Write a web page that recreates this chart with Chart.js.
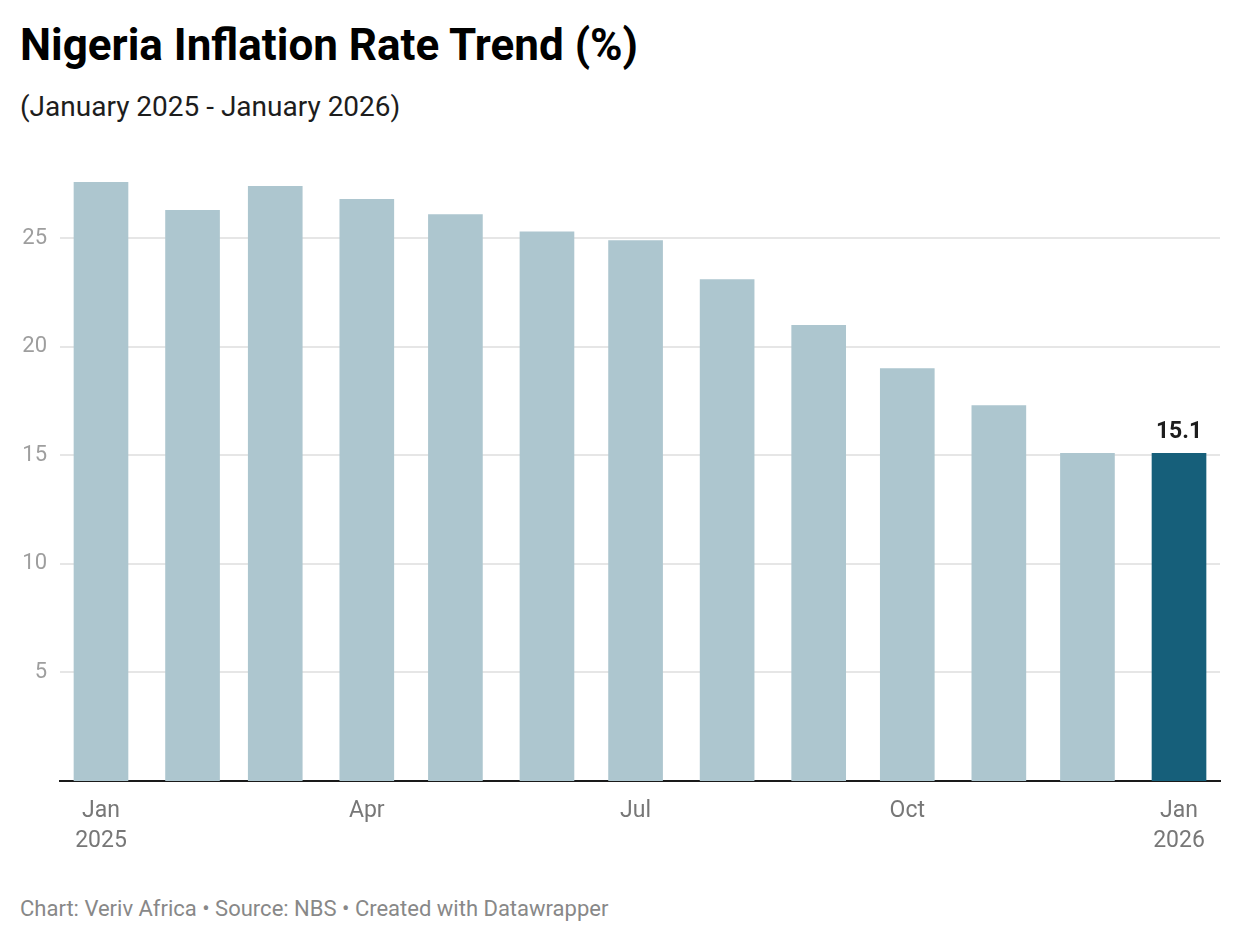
<!DOCTYPE html>
<html>
<head>
<meta charset="utf-8">
<script src="https://cdn.jsdelivr.net/npm/chart.js@4"></script>
<style>
  html, body { margin: 0; padding: 0; background: #fff; }
  body { width: 1240px; height: 944px; position: relative; overflow: hidden; font-family: Roboto, "Noto Sans", sans-serif; }
  .t { position: absolute; left: 20px; line-height: 1; white-space: nowrap; }
  #title { top: 23px; font-size: 44px; font-weight: 700; color: #000; }
  #subtitle { top: 93px; font-size: 28px; color: #1d1d1d; }
  #footer { top: 898px; font-size: 22px; color: #888; }
  #wrap { position: absolute; left: 0; top: 150px; width: 1240px; height: 720px; }
</style>
</head>
<body>
<div class="t" id="title">Nigeria Inflation Rate Trend (%)</div>
<div class="t" id="subtitle">(January 2025 - January 2026)</div>
<div id="wrap"><canvas id="c" width="1240" height="720"></canvas></div>
<div class="t" id="footer">Chart: Veriv Africa • Source: NBS • Created with Datawrapper</div>
<script>
// ---- data ----
const months = ['2025-01','2025-02','2025-03','2025-04','2025-05','2025-06','2025-07','2025-08','2025-09','2025-10','2025-11','2025-12','2026-01'];
const inflation = [27.6, 26.3, 27.4, 26.8, 26.1, 25.3, 24.9, 23.1, 21.0, 19.0, 17.3, 15.1, 15.1];
const tickMonths = ['2025-01','2025-04','2025-07','2025-10','2026-01'];
const tickLabels = [['Jan','2025'], 'Apr', 'Jul', 'Oct', ['Jan','2026']];
const yTicks = [5, 10, 15, 20, 25];
const highlightLabel = '15.1';

// ---- helpers ----
const base = Date.UTC(2025, 0, 1);
const dayOf = m => { const [y, mo] = m.split('-').map(Number); return (Date.UTC(y, mo - 1, 1) - base) / 86400000; };
const xs = months.map(dayOf);
const tickDays = tickMonths.map(dayOf);
const padDays = 13.88;

const lightColor = '#adc6cf';
const darkColor = '#165f7a';

const labelPlugin = {
  id: 'lastLabel',
  afterDatasetsDraw(chart) {
    const meta = chart.getDatasetMeta(0);
    const el = meta.data[meta.data.length - 1];
    const ctx = chart.ctx;
    ctx.save();
    ctx.font = '700 23px Roboto, sans-serif';
    ctx.fillStyle = '#1d1d1d';
    ctx.textAlign = 'center';
    ctx.textBaseline = 'alphabetic';
    ctx.fillText(highlightLabel, el.x, el.y - 15);
    ctx.restore();
  }
};

new Chart(document.getElementById('c'), {
  type: 'bar',
  data: {
    datasets: [{
      data: xs.map((x, i) => ({ x, y: inflation[i] })),
      backgroundColor: inflation.map((v, i) => i === inflation.length - 1 ? darkColor : lightColor),
      barThickness: 54,
      borderWidth: 0
    }]
  },
  options: {
    responsive: false,
    animation: false,
    layout: { padding: { top: 32, right: 20, left: 0, bottom: 0 } },
    plugins: { legend: { display: false }, tooltip: { enabled: false } },
    scales: {
      x: {
        type: 'linear',
        min: xs[0] - padDays,
        max: xs[xs.length - 1] + padDays,
        offset: false,
        grid: { display: false, drawTicks: false },
        border: { display: true, color: '#1a1a1a', width: 2 },
        afterBuildTicks: s => { s.ticks = tickDays.map(v => ({ value: v })); },
        afterFit: s => { s.height = 89; },
        ticks: {
          autoSkip: false, maxRotation: 0, minRotation: 0,
          padding: 16,
          color: '#777',
          font: { family: 'Roboto', size: 23, lineHeight: 1.27 },
          callback: (v) => { const i = tickDays.indexOf(v); return i >= 0 ? tickLabels[i] : ''; }
        }
      },
      y: {
        min: 0,
        max: Math.max(...inflation),
        grid: { color: '#e6e6e6', lineWidth: 2, drawTicks: false },
        border: { display: false },
        afterBuildTicks: s => { s.ticks = yTicks.map(v => ({ value: v })); },
        afterFit: s => { s.width = 60; },
        ticks: {
          padding: 13,
          color: '#9e9e9e',
          font: { family: 'Roboto', size: 22 },
          callback: v => String(v)
        }
      }
    }
  },
  plugins: [labelPlugin]
});
</script>
</body>
</html>
